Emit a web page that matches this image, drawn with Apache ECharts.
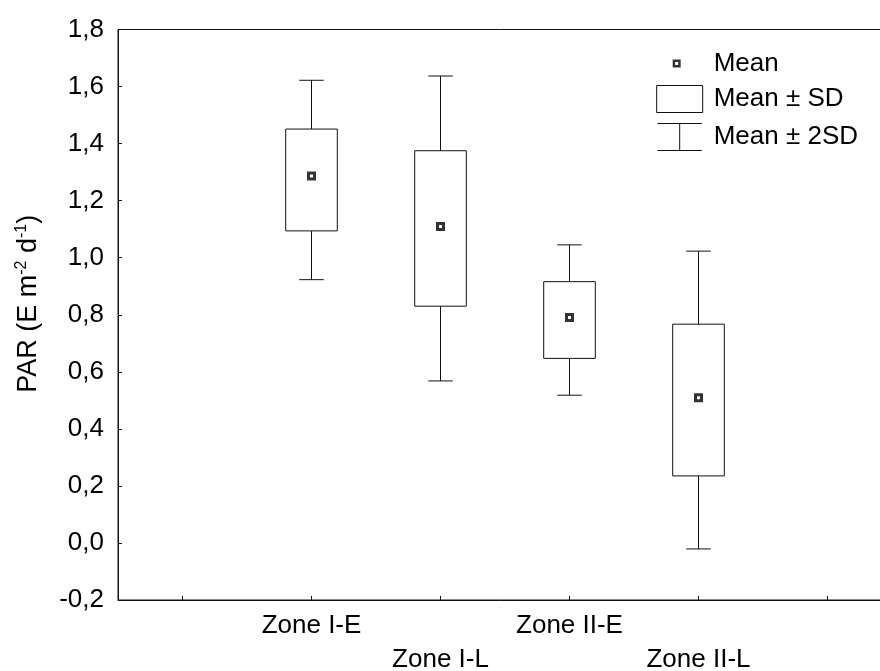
<!DOCTYPE html>
<html>
<head>
<meta charset="utf-8">
<script src="https://cdn.jsdelivr.net/npm/echarts@6/dist/echarts.min.js"></script>
<style>
  html, body { margin: 0; padding: 0; background: #fff; }
  #chart { width: 880px; height: 671px; }
</style>
</head>
<body>
<div id="chart"></div>
<script>
// values
var zones = ['Zone I-E', 'Zone I-L', 'Zone II-E', 'Zone II-L'];
var means = [1.286, 1.109, 0.790, 0.509];
var sdLow = [1.094, 0.830, 0.647, 0.235];
var sdHigh = [1.451, 1.375, 0.916, 0.767];
var sd2Low = [0.923, 0.568, 0.518, -0.021];
var sd2High = [1.622, 1.637, 1.045, 1.023];
var yTicks = { min: -0.2, max: 1.8, step: 0.2 };

var font = '"Liberation Sans", Arial, sans-serif';
var ink = '#111';

// one empty slot at each end so the ticks fall like the original
var slots = [''].concat(zones, ['']);

var boxData = zones.map(function (z, i) { return [i + 1, sdLow[i], sdHigh[i]]; });
var whiskerData = zones.map(function (z, i) { return [i + 1, sd2Low[i], sd2High[i]]; });
var meanData = zones.map(function (z, i) { return [i + 1, means[i]]; });

function renderBox(params, api) {
  var x = api.value(0);
  var lo = api.coord([x, api.value(1)]);
  var hi = api.coord([x, api.value(2)]);
  var w = api.size([1, 0])[0] * 0.4;
  return {
    type: 'rect',
    z2: 5,
    shape: { x: lo[0] - w / 2, y: hi[1], width: w, height: lo[1] - hi[1] },
    style: { fill: '#fff', stroke: ink, lineWidth: 1 }
  };
}

function renderWhisker(params, api) {
  var x = api.value(0);
  var lo = api.coord([x, api.value(1)]);
  var hi = api.coord([x, api.value(2)]);
  var c = api.size([1, 0])[0] * 0.095;
  var st = { stroke: ink, lineWidth: 1 };
  return {
    type: 'group',
    children: [
      { type: 'line', shape: { x1: lo[0], y1: lo[1], x2: hi[0], y2: hi[1] }, style: st },
      { type: 'line', shape: { x1: lo[0] - c, y1: lo[1], x2: lo[0] + c, y2: lo[1] }, style: st },
      { type: 'line', shape: { x1: hi[0] - c, y1: hi[1], x2: hi[0] + c, y2: hi[1] }, style: st }
    ]
  };
}

var myChart = echarts.init(document.getElementById('chart'));
var option = {
  animation: false,
  backgroundColor: '#fff',
  textStyle: { fontFamily: font, color: '#000' },
  grid: {
    left: 118, width: 774, top: 29.5, bottom: 71,
    outerBoundsMode: 'none',
    show: true, borderColor: ink, borderWidth: 1, containLabel: false
  },
  legend: {
    orient: 'vertical',
    left: 650,
    top: 45,
    itemWidth: 46,
    itemHeight: 27,
    itemGap: 8,
    selectedMode: false,
    textStyle: { fontSize: 26, color: '#000', fontFamily: font, lineHeight: 27, padding: [0, 0, 0, 6] },
    data: [
      { name: 'Mean', icon: 'path://M0,0M46,27M16,9.5h8v8h-8zM18.5,12v3h3v-3z',
        itemStyle: { color: '#000', borderWidth: 0 } },
      { name: 'Mean ± SD', icon: 'rect',
        itemStyle: { color: '#fff', borderColor: ink, borderWidth: 1 } },
      { name: 'Mean ± 2SD', icon: 'path://M0,0H46M23,0V28M0,28H46',
        itemStyle: { color: 'none', borderColor: ink, borderWidth: 1 } }
    ]
  },
  xAxis: {
    type: 'category',
    data: slots,
    boundaryGap: true,
    axisLine: { show: true, onZero: false, lineStyle: { color: ink, width: 1 } },
    axisTick: { show: true, alignWithLabel: true, inside: true, length: 4, lineStyle: { color: ink } },
    splitLine: { show: false },
    axisLabel: {
      interval: 0,
      margin: 9,
      fontSize: 26,
      lineHeight: 34,
      color: '#000',
      formatter: function (v, i) { return i % 2 === 0 ? '\n' + v : v; }
    }
  },
  yAxis: {
    type: 'value',
    min: yTicks.min,
    max: yTicks.max,
    interval: yTicks.step,
    axisLine: { show: true, lineStyle: { color: ink, width: 1 } },
    axisTick: { show: true, inside: true, length: 4, lineStyle: { color: ink } },
    splitLine: { show: false },
    axisLabel: {
      margin: 14,
      fontSize: 26,
      color: '#000',
      formatter: function (v) { return (Math.round(v * 10) / 10).toFixed(1).replace('.', ','); }
    },
    name: 'PAR (E m{sup|-2} d{sup|-1})',
    nameLocation: 'middle',
    nameRotate: 90,
    nameGap: 74,
    nameTextStyle: {
      fontSize: 27,
      color: '#000',
      lineHeight: 30,
      padding: [0, 0, 0, 22],
      rich: {
        sup: { fontSize: 16, verticalAlign: 'top', lineHeight: 30, color: '#000' }
      }
    }
  },
  series: [
    {
      name: 'Mean ± 2SD',
      type: 'custom',
      renderItem: renderWhisker,
      encode: { x: 0, y: [1, 2] },
      data: whiskerData,
      z: 1
    },
    {
      name: 'Mean ± SD',
      type: 'custom',
      renderItem: renderBox,
      encode: { x: 0, y: [1, 2] },
      data: boxData,
      z: 2
    },
    {
      name: 'Mean',
      type: 'scatter',
      symbol: 'rect',
      symbolSize: 6,
      itemStyle: { color: '#fff', borderColor: '#000', borderWidth: 3 },
      data: meanData,
      z: 3
    }
  ]
};
myChart.setOption(option);
</script>
</body>
</html>
